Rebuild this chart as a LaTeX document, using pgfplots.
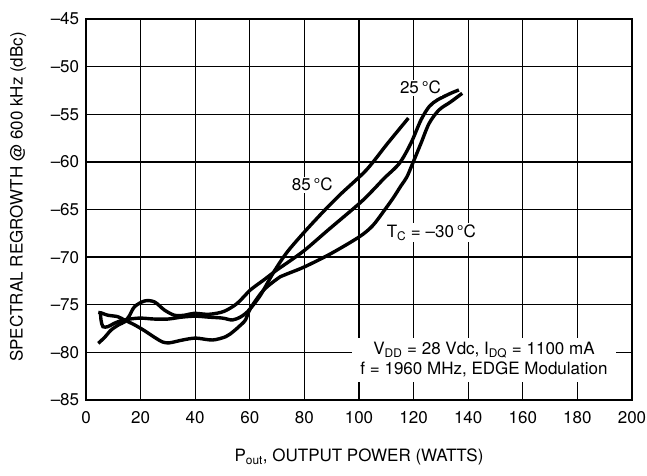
\documentclass[border=0pt]{standalone}
\usepackage{fontspec}
\setmainfont{TeX Gyre Heros}
\usepackage{pgfplots}
\pgfplotsset{compat=1.18}
\usetikzlibrary{calc}

\begin{document}
\fontsize{17}{20}\selectfont
\begin{tikzpicture}
  \begin{axis}[
    name=ax,
    scale only axis, width=546pt, height=381pt,
    xmin=0, xmax=200, ymin=-85, ymax=-45,
    xtick={0,20,...,200}, ytick={-85,-80,...,-45},
    xticklabels={0,20,40,60,80,100,120,140,160,180,200},
    yticklabels={–85,–80,–75,–70,–65,–60,–55,–50,–45},
    major tick length=0pt,
    grid=major, grid style={line width=1.3pt, black},
    axis line style={line width=1.3pt},
    tick label style={font=\fontsize{17}{20}\selectfont},
    label style={font=\fontsize{17}{20}\selectfont},
    xticklabel style={yshift=-6pt},
    yticklabel style={xshift=-1pt},
    xlabel={P\textsubscript{out}, OUTPUT POWER (WATTS)},
    ylabel={SPECTRAL REGROWTH @ 600 kHz (dBc)},
    xlabel style={at={(axis description cs:0.5,-0.1496)}, anchor=center},
    ylabel style={at={(axis description cs:-0.1245,0.533)}, anchor=center},
  ]
    % TC = -30 C
    \addplot[black, line width=3.4pt, smooth, tension=0.5] coordinates {
      (4.5,-75.8) (6,-75.9) (8,-76.1) (11.6,-76.25) (14.1,-76.6) (17.7,-77.1)
      (21.3,-77.7) (25,-78.4) (28,-78.9) (30.5,-79.0) (35.4,-78.7) (40.2,-78.5)
      (46.3,-78.7) (51.2,-78.35) (54,-77.8) (56,-77.3) (58.4,-76.6) (60.2,-75.4)
      (65.1,-73.45) (71.2,-72.05) (74.2,-71.7) (80.2,-71.0) (89.9,-69.6)
      (100.2,-67.85) (105,-66.7) (109,-65.2) (112.5,-63.8) (115.4,-62.5)
      (117.5,-61.6) (119.6,-60.2) (122.7,-58.05) (125.7,-55.95) (129.3,-54.55)
      (133.6,-53.7) (137.8,-52.8)};
    % 25 C
    \addplot[black, line width=3.4pt, smooth, tension=0.5] coordinates {
      (4.5,-79.05) (6.9,-78.4) (9.2,-77.65) (12,-77.1) (14.1,-76.8) (15.8,-76.2)
      (17.8,-75.2) (21.5,-74.6) (25.1,-74.7) (28.7,-75.55) (32.4,-76.1)
      (36,-76.1) (39.6,-75.9) (45,-76.0) (50.5,-75.7) (55.4,-74.85) (60.2,-73.45)
      (65.1,-72.4) (69.9,-71.35) (74.2,-70.5) (80.2,-69.25) (88.7,-67.15)
      (100.2,-64.35) (105,-63.0) (109.3,-61.7) (114.8,-60.15) (119.0,-58.05)
      (122.7,-55.6) (125.7,-54.2) (128.7,-53.5) (133.6,-52.8) (136.6,-52.45)};
    % 85 C
    \addplot[black, line width=3.4pt, smooth, tension=0.5] coordinates {
      (5.3,-75.7) (5.5,-76.6) (6.2,-77.3) (8,-77.3) (10,-77.0) (12.5,-76.7)
      (16,-76.5) (20,-76.4) (25,-76.5) (30,-76.5) (35,-76.3) (40,-76.2)
      (45,-76.3) (50,-76.4) (53.6,-76.6) (56.5,-76.3) (58.5,-75.9) (60.2,-75.4)
      (63.9,-74.0) (68.7,-71.6) (73.6,-69.5) (80.2,-67.3) (87.5,-65.05)
      (93.6,-63.3) (102.7,-60.85) (110.5,-58.05) (118.1,-55.4)};

    \draw[line width=3pt, line cap=rect] (rel axis cs:0,1) -- (rel axis cs:0,0) -- (rel axis cs:1,0);

    \node[fill=white, inner sep=1.5pt] at (axis cs:82.9,-62.4) {85\,°C};
    \node[fill=white, inner sep=1.5pt] at (axis cs:122.5,-52.2) {25\,°C};
    \node[fill=white, inner sep=1.5pt] at (axis cs:126.5,-67.4) {T\textsubscript{C} = –30\,°C};
    \node[fill=white, inner xsep=8pt, inner ysep=5pt, align=center] at (axis cs:145.8,-80.8)
      {V\textsubscript{DD} = 28 Vdc, I\textsubscript{DQ} = 1100 mA\\ f = 1960 MHz, EDGE Modulation};
  \end{axis}
  \pgfresetboundingbox
  \useasboundingbox ($(ax.south west)+(-86pt,-75pt)$) rectangle ($(ax.north east)+(15pt,19pt)$);
\end{tikzpicture}
\end{document}
